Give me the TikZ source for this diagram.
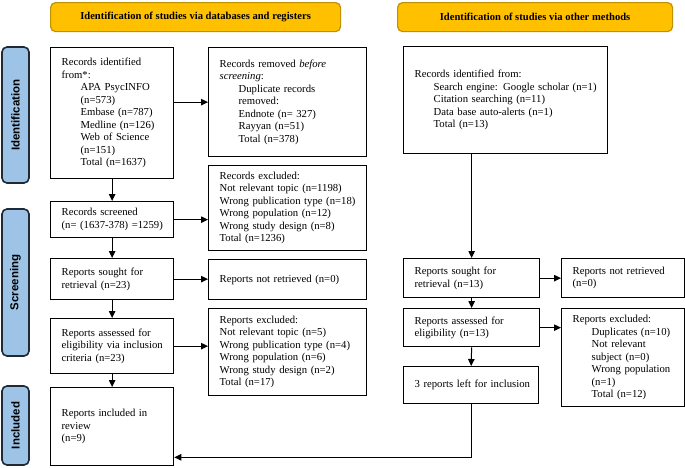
\documentclass[tikz,border=0pt]{standalone}
\usepackage{fontspec}
\setmainfont{Liberation Serif}
\newfontfamily\sidefont{Liberation Sans}
\usetikzlibrary{arrows.meta}

\definecolor{hdrfill}{HTML}{FFC000}
\definecolor{hdrline}{HTML}{BF9000}
\definecolor{sidefill}{HTML}{9DC3E6}
\definecolor{sideline}{HTML}{1F2A36}

\def\ind{\hspace*{19pt}}

\begin{document}
\begin{tikzpicture}[x=1pt,y=-1pt,
    box/.style 2 args={draw, line width=1.3pt, anchor=north west, align=left,
      inner xsep=11pt, inner ysep=0pt, minimum width=#1, text width=#1-22pt,
      minimum height=#2, font=\fontsize{10.7}{12.5}\selectfont,
      execute at begin node={\rightskip=0pt plus 1fil minus 30pt}},
    hdr/.style 2 args={draw=hdrline, fill=hdrfill, line width=1.2pt, rounded corners=5pt,
      anchor=north west, minimum width=#1, minimum height=#2,
      font=\fontsize{10.6}{12}\selectfont\bfseries},
    side/.style={draw=sideline, fill=sidefill, line width=1.6pt, rounded corners=5pt,
      rotate=90, minimum height=27pt, font=\fontsize{11.5}{13}\sidefont\bfseries},
    arr/.style={line width=1pt, -{Triangle[length=7pt,width=6.5pt]}}]

    \useasboundingbox (0,0) rectangle (685,467);

    \node[hdr={290pt}{29pt}] (hdrA) at (50,2) {Identification of studies via databases and registers};
    \node[hdr={275pt}{29pt}] (hdrB) at (397,2) {Identification of studies via other methods};

    \node[side, minimum width=136pt] (sideA) at (15.5,115) {Identification};
    \node[side, minimum width=147pt] (sideB) at (15.5,282.5) {Screening};
    \node[side, minimum width=79pt] (sideC) at (15.5,425.5) {Included};

    \node[box={123pt}{131pt}] (idA) at (50,47) {Records identified\\ from*:\\
      \ind APA PsycINFO\\ \ind (n=573)\\ \ind Embase (n=787)\\ \ind Medline (n=126)\\
      \ind Web of Science\\ \ind (n=151)\\ \ind Total (n=1637)};
    \node[box={158pt}{109pt}] (remA) at (208,47) {Records removed \textit{before}\\
      \textit{screening}:\\ \ind Duplicate records\\ \ind removed:\\
      \ind Endnote (n= 327)\\ \ind Rayyan (n=51)\\ \ind Total (n=378)};
    \node[box={123pt}{36pt}] (scrA) at (50,201) {Records screened\\ (n= (1637-378) =1259)};
    \node[box={158pt}{85pt}] (excA) at (208,165) {Records excluded:\\
      Not relevant topic (n=1198)\\ Wrong publication type (n=18)\\
      Wrong population (n=12)\\ Wrong study design (n=8)\\ Total (n=1236)};
    \node[box={123pt}{41pt}] (souA) at (50,258) {Reports sought for\\ retrieval (n=23)};
    \node[box={158pt}{40pt}] (nrA) at (208,259) {Reports not retrieved (n=0)};
    \node[box={123pt}{55pt}] (assA) at (50,318) {Reports assessed for\\
      eligibility via inclusion\\ criteria (n=23)};
    \node[box={158pt}{87pt}] (rexA) at (208,308) {Reports excluded:\\
      Not relevant topic (n=5)\\ Wrong publication type (n=4)\\
      Wrong population (n=6)\\ Wrong study design (n=2)\\ Total (n=17)};
    \node[box={123pt}{78pt}] (incA) at (50,387) {Reports included in\\ review\\ (n=9)};

    \node[box={204pt}{107pt}] (idB) at (403,46) {Records identified from:\\
      \ind Search engine: Google scholar (n=1)\\ \ind Citation searching (n=11)\\
      \ind Data base auto-alerts (n=1)\\ \ind Total (n=13)};
    \node[box={136pt}{39pt}] (souB) at (403,258) {Reports sought for\\ retrieval (n=13)};
    \node[box={122.5pt}{39pt}] (nrB) at (561,258) {Reports not retrieved\\ (n=0)};
    \node[box={136pt}{38pt}] (assB) at (403,308) {Reports assessed for\\ eligibility (n=13)};
    \node[box={122.5pt}{98pt}] (rexB) at (561,308) {Reports excluded:\\
      \ind Duplicates (n=10)\\ \ind Not relevant\\ \ind subject (n=0)\\
      \ind Wrong population\\ \ind (n=1)\\ \ind Total (n=12)};
    \node[box={135pt}{37pt}] (leftB) at (403,366) {3 reports left for inclusion};

    \draw[arr] (idA.south) -- (scrA.north);
    \draw[arr] (idA.east |- remA.west) -- (remA.west);
    \draw[arr] (scrA.east) -- (scrA.east -| excA.west);
    \draw[arr] (scrA.south) -- (souA.north);
    \draw[arr] (souA.east) -- (souA.east -| nrA.west);
    \draw[arr] (souA.south) -- (assA.north);
    \draw[arr] (assA.east) -- (assA.east -| rexA.west);
    \draw[arr] (assA.south) -- (incA.north);

    \draw[arr] (souB.north |- idB.south) -- (souB.north);
    \draw[arr] (souB.east) -- (souB.east -| nrB.west);
    \draw[arr] (souB.south) -- (assB.north);
    \draw[arr] (assB.east) -- (assB.east -| rexB.west);
    \draw[arr] (assB.south) -- (leftB.north);
    \draw[arr] (leftB.south) |- ([yshift=9pt]incA.south east);

\end{tikzpicture}
\end{document}
